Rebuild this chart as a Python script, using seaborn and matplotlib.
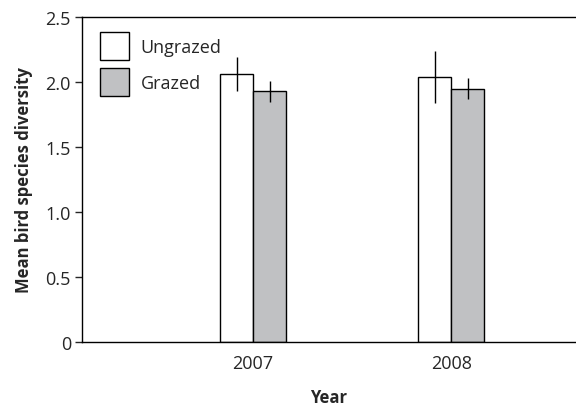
import pandas as pd
import matplotlib.pyplot as plt
import seaborn as sns

# data
years = ["2007", "2008"]
treatments = ["Ungrazed", "Grazed"]
ungrazed_mean = [2.06, 2.04]
ungrazed_err = [0.13, 0.20]
grazed_mean = [1.93, 1.95]
grazed_err = [0.08, 0.08]
ytick_vals = [0, 0.5, 1.0, 1.5, 2.0, 2.5]
ytick_labels = ["0", "0.5", "1.0", "1.5", "2.0", "2.5"]

df = pd.DataFrame({
    "Year": years * 2,
    "Treatment": ["Ungrazed"] * 2 + ["Grazed"] * 2,
    "Mean": ungrazed_mean + grazed_mean,
    "Err": ungrazed_err + grazed_err,
})

sns.set_style("white")
plt.rcParams["font.family"] = ["Open Sans", "DejaVu Sans"]

fig = plt.figure(figsize=(5.76, 4.10), dpi=100)
ax = fig.add_axes([82 / 576, 1 - 343 / 410, 1 - 82 / 576, 325 / 410])

sns.barplot(data=df, x="Year", y="Mean", hue="Treatment", hue_order=treatments,
            palette={"Ungrazed": "white", "Grazed": "#c0c1c3"},
            width=0.333, errorbar=None, edgecolor="black", linewidth=1.0,
            ax=ax)

# error bars (no caps), centred on each bar
for container, tr in zip(ax.containers, treatments):
    sub = df[df["Treatment"] == tr]
    xs = [p.get_x() + p.get_width() / 2 for p in container.patches]
    ax.errorbar(xs, sub["Mean"].values, yerr=sub["Err"].values, fmt="none",
                ecolor="black", elinewidth=1.0, capsize=0)

ax.set_xlim(-0.864, 1.63)
ax.set_ylim(0, 2.5)
ax.set_yticks(ytick_vals)
ax.set_yticklabels(ytick_labels)
ax.tick_params(axis="y", direction="out", length=5, width=1, labelsize=13, pad=3, left=True)
ax.tick_params(axis="x", length=0, labelsize=13, pad=9)

for s in ["left", "bottom", "top"]:
    ax.spines[s].set_color("black")
    ax.spines[s].set_linewidth(1.0)
ax.spines["right"].set_visible(False)

ax.set_xlabel("Year", fontsize=12, fontweight="bold", labelpad=11)
ax.set_ylabel("Mean bird species diversity", fontsize=12, fontweight="bold", labelpad=9)

leg = ax.legend(loc="upper left", frameon=False, fontsize=13, handlelength=1.6,
                handleheight=2.0, handletextpad=0.65, labelspacing=0.45,
                bbox_to_anchor=(0.036, 0.954), borderaxespad=0, borderpad=0)
for h in leg.legend_handles:
    h.set_edgecolor("black")
    h.set_linewidth(1.0)

fig.savefig("out.png", dpi=100)
